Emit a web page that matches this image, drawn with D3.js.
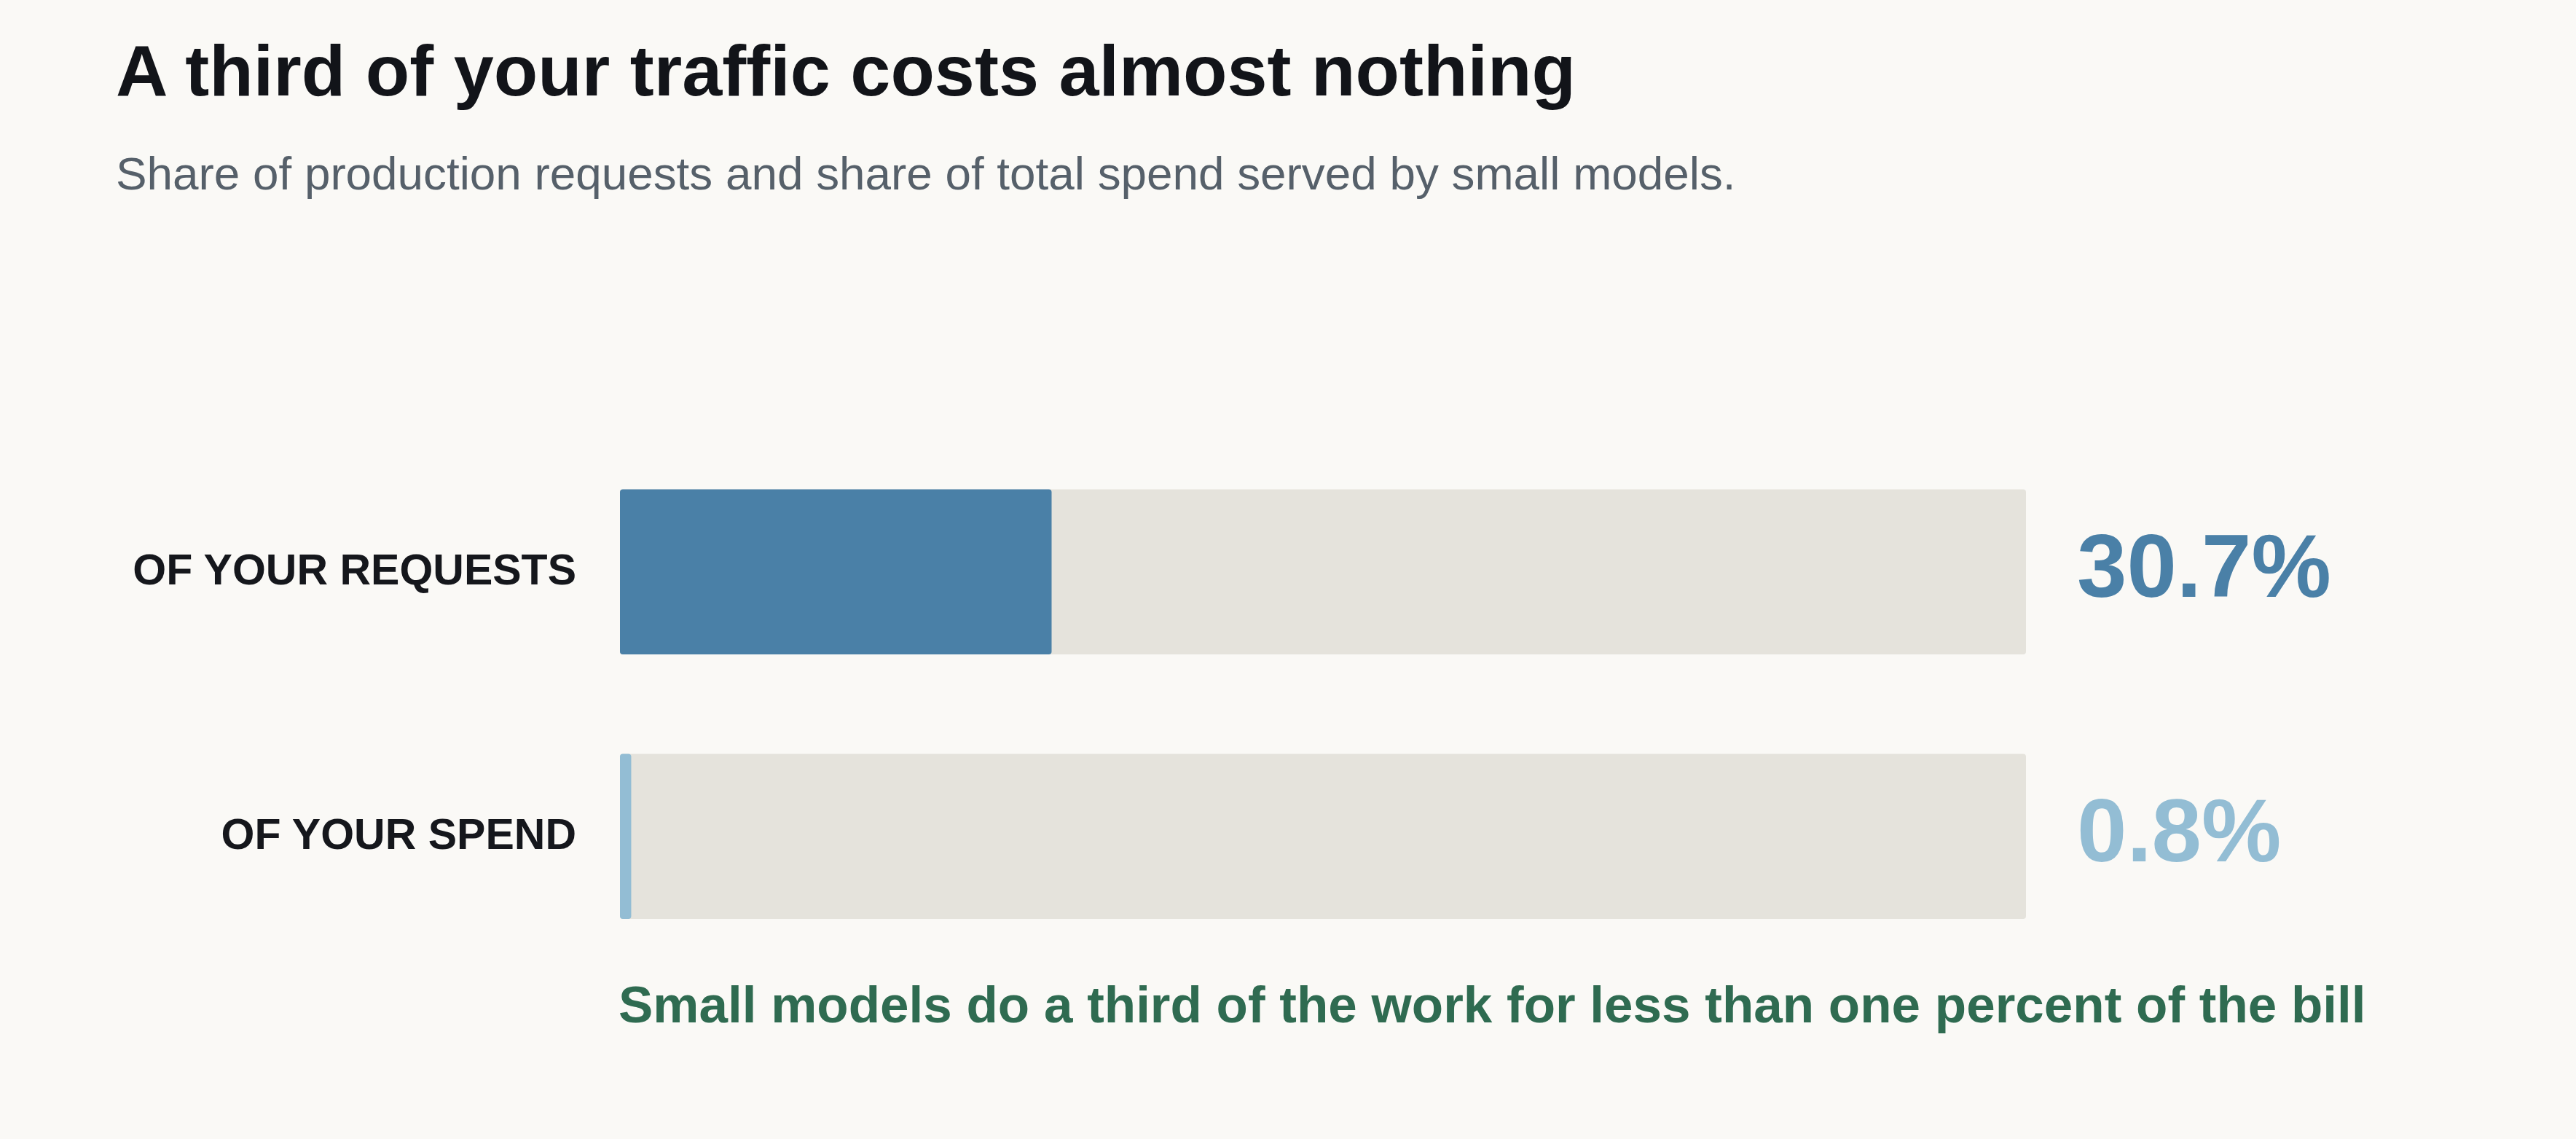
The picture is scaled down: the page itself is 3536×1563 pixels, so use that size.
<!DOCTYPE html>
<html>
<head>
<meta charset="utf-8">
<script src="https://cdn.jsdelivr.net/npm/d3@7/dist/d3.min.js"></script>
<style>
  html, body { margin: 0; padding: 0; background: #faf9f6; }
  svg { display: block; }
  text { font-family: "Liberation Sans", Arial, sans-serif; }
</style>
</head>
<body>
<svg id="chart" width="3536" height="1563"></svg>
<script>
const title = "A third of your traffic costs almost nothing";
const subtitle = "Share of production requests and share of total spend served by small models.";
const annotation = "Small models do a third of the work for less than one percent of the bill";
const categories = ["OF YOUR REQUESTS", "OF YOUR SPEND"];
const values = [30.7, 0.8];
const valueLabels = ["30.7%", "0.8%"];
const fillColors = ["#4a80a7", "#93bdd4"];
const domainMax = 100;

const W = 3536, H = 1563;
const svg = d3.select("#chart");
svg.append("rect").attr("width", W).attr("height", H).attr("fill", "#faf9f6");

svg.append("text").attr("x", 159).attr("y", 131)
  .attr("font-size", 99).attr("font-weight", 700).attr("fill", "#121419")
  .text(title);
svg.append("text").attr("x", 159).attr("y", 260)
  .attr("font-size", 63.8).attr("fill", "#56606a")
  .text(subtitle);

const x = d3.scaleLinear().domain([0, domainMax]).range([851, 2781]);
const y = d3.scaleBand().domain(categories).range([671.5, 1261]).paddingInner(0.376).paddingOuter(0);

const rows = categories.map((c, i) => ({ cat: c, value: values[i], label: valueLabels[i], color: fillColors[i] }));

const g = svg.append("g");
g.selectAll("rect.track").data(rows).join("rect").attr("class", "track")
  .attr("x", x(0)).attr("y", d => y(d.cat))
  .attr("width", x(domainMax) - x(0)).attr("height", y.bandwidth())
  .attr("rx", 4).attr("fill", "#e5e3dc");

g.selectAll("rect.fill").data(rows).join("rect").attr("class", "fill")
  .attr("x", x(0)).attr("y", d => y(d.cat))
  .attr("width", d => x(d.value) - x(0)).attr("height", y.bandwidth())
  .attr("rx", 4).attr("fill", d => d.color);

g.selectAll("text.cat").data(rows).join("text").attr("class", "cat")
  .attr("x", 791).attr("y", d => y(d.cat) + y.bandwidth() / 2 + 17)
  .attr("text-anchor", "end").attr("font-size", 59).attr("font-weight", 700)
  .attr("fill", "#15171c")
  .text(d => d.cat);

g.selectAll("text.val").data(rows).join("text").attr("class", "val")
  .attr("x", x(domainMax) + 70).attr("y", d => y(d.cat) + y.bandwidth() / 2 + 34)
  .attr("font-size", 123).attr("font-weight", 700)
  .attr("fill", d => d.color)
  .text(d => d.label);

svg.append("text").attr("x", 849).attr("y", 1403)
  .attr("font-size", 71).attr("font-weight", 700).attr("fill", "#2f6b51")
  .text(annotation);
</script>
</body>
</html>
